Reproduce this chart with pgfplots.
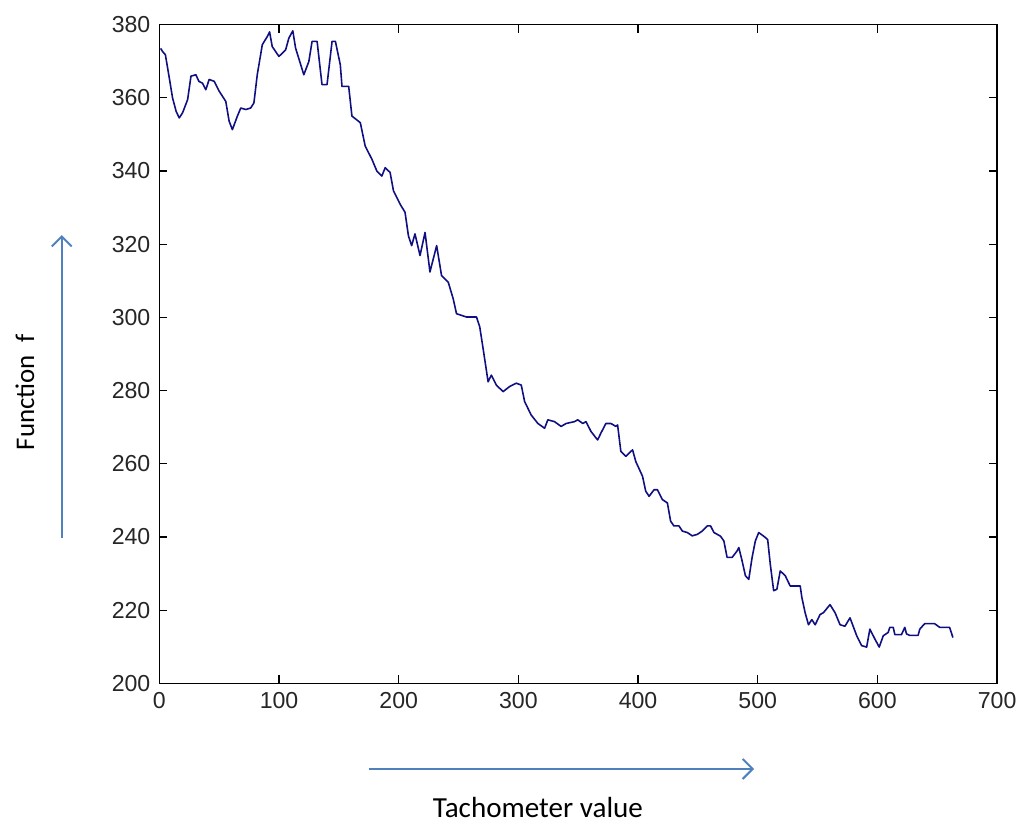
\documentclass[border=0pt]{standalone}
\usepackage{fontspec}
\setmainfont{Carlito}
\newfontfamily\ticksf{Liberation Sans}
\usepackage{pgfplots}
\pgfplotsset{compat=1.18}
\usetikzlibrary{arrows.meta}
\definecolor{linecol}{RGB}{15,15,130}
\definecolor{arrcol}{RGB}{79,129,189}
\begin{document}
\begin{tikzpicture}
\begin{axis}[
  at={(0,0)}, anchor=south west,
  scale only axis, width=420.5pt, height=330.65pt,
  xmin=0, xmax=700, ymin=200, ymax=380,
  xtick={0,100,...,700}, ytick={200,220,...,380},
  tick align=inside, major tick length=4pt,
  axis line style={line width=0.6pt},
  tick style={line width=0.6pt, black},
  /pgf/number format/assume math mode=true,
  /pgf/number format/1000 sep={},
  tick label style={font=\ticksf\fontsize{11.6}{13}\selectfont, text=black!85},
  yticklabel style={xshift=-1pt},
  xticklabel style={yshift=-1pt},
]
\addplot[linecol, line width=0.8pt, line join=round] coordinates {
(1,373.5)(3,372.5)(5,371.8)(8,366)(11,360)(14,356.3)(16.6,354.5)(19.4,355.9)
(23.6,359.5)(26.4,365.9)(30.5,366.3)(33,364.5)(36,364)(38.8,362.2)(41.6,365)
(45.8,364.5)(50,361.8)(55.5,359)(58.3,353.6)(61,351.3)(65.2,355)(68,357.2)
(72.2,356.8)(76.3,357.2)(79,358.6)(81.8,366.3)(86,374.5)(90.1,376.7)(92.1,378)
(94.3,374)(99.9,371.3)(105.5,373.1)(108.2,376.3)(111.5,378.3)(113.8,373.6)
(120.7,366.3)(124.9,369.9)(127.6,375.4)(131.8,375.4)(135.9,363.6)(140.1,363.6)
(144.3,375.4)(147.1,375.4)(151.2,369)(152.6,363.1)(158.2,363.1)(160.9,355)
(167.9,353.2)(172,346.8)(177.6,343.2)(181.7,340)(185.9,338.6)(188.7,340.9)
(192.8,339.6)(195.6,334.6)(201.2,330.9)(205.3,328.7)(208.1,322.3)(210.8,319.6)
(213.6,322.8)(217.8,316.9)(222,323.2)(226.1,312.4)(231.7,319.6)(235.8,311.4)
(241.4,309.6)(245.5,305.1)(248.3,301)(256.6,300.1)(265,300.1)(267.7,297.4)
(270.5,291.5)(274.7,282.4)(277.4,284.2)(281.6,281.5)(287.2,279.7)(292.7,281.1)
(298.2,282)(302.4,281.5)(305.2,277)(310.7,273.3)(316.3,271)(321.9,269.7)
(324.6,272)(330.2,271.5)(335.7,270.2)(339.9,271)(346.8,271.5)(349.6,272)
(353.8,271)(356.5,271.5)(360.7,268.8)(366.2,266.5)(369,268.4)(373.1,271)
(377.3,271)(381.5,270.2)(382.9,270.6)(385.6,263.4)(389.8,262)(395.4,263.8)
(398.1,260.6)(403.7,256.6)(406.4,252.5)(409.2,251.1)(413.4,252.9)(416.2,252.9)
(420.3,250.2)(424.5,249.3)(427.2,244.3)(430,243)(434.2,243)(437,241.6)
(441.1,241.2)(445.3,240.3)(449.5,240.7)(453.6,241.6)(457.8,243)(460.6,243)
(463.4,241.2)(468.9,240.2)(471.7,238.9)(474.4,234.4)(478.6,234.4)(482.8,236.2)
(484.2,237.1)(486.9,233.5)(489.7,229.4)(492.5,228.4)(495.3,234.4)(498,238.9)
(500.8,241.2)(505,240.2)(508.3,239.3)(510.5,232.5)(513.3,225.3)(516,225.7)
(518.8,230.7)(523,229.4)(527.1,226.6)(535.5,226.6)(536.9,223.4)(539.6,219.3)
(542.4,216)(545.2,217.4)(548,216)(552.1,218.8)(554.9,219.3)(560.4,221.5)
(564.6,219.3)(568.8,216)(572.9,215.6)(577.1,217.9)(582.7,213)(586.8,210.3)
(591,209.9)(593.7,214.8)(597.9,212.1)(601.5,209.9)(604.9,213)(609,213.9)
(610.4,215.3)(613.2,215.3)(614.6,213.3)(620.1,213.3)(622.9,215.3)(624.3,213.5)
(627,213.1)(634,213.1)(635.4,214.8)(639.5,216.3)(647.8,216.3)(652,215.3)
(660.3,215.3)(663.1,212.5)
};
\end{axis}
\begin{scope}[x=0.5pt, y=-0.5pt, shift={(-160,-686)}]
\path[use as bounding box] (0,0) rectangle (1023,828);
\draw[arrcol, line width=1.1pt, -{Straight Barb[length=5pt,width=10pt,line width=1pt]}] (62,540) -- (62,236);
\draw[arrcol, line width=1.1pt, -{Straight Barb[length=5pt,width=10pt,line width=1pt]}] (370,772) -- (757,772);
\node[rotate=90, font=\fontsize{13.5}{16}\selectfont] at (25,394) {Function\ \ f};
\node[font=\fontsize{14.6}{17}\selectfont] at (540,811) {Tachometer value};
\end{scope}
\end{tikzpicture}
\end{document}
